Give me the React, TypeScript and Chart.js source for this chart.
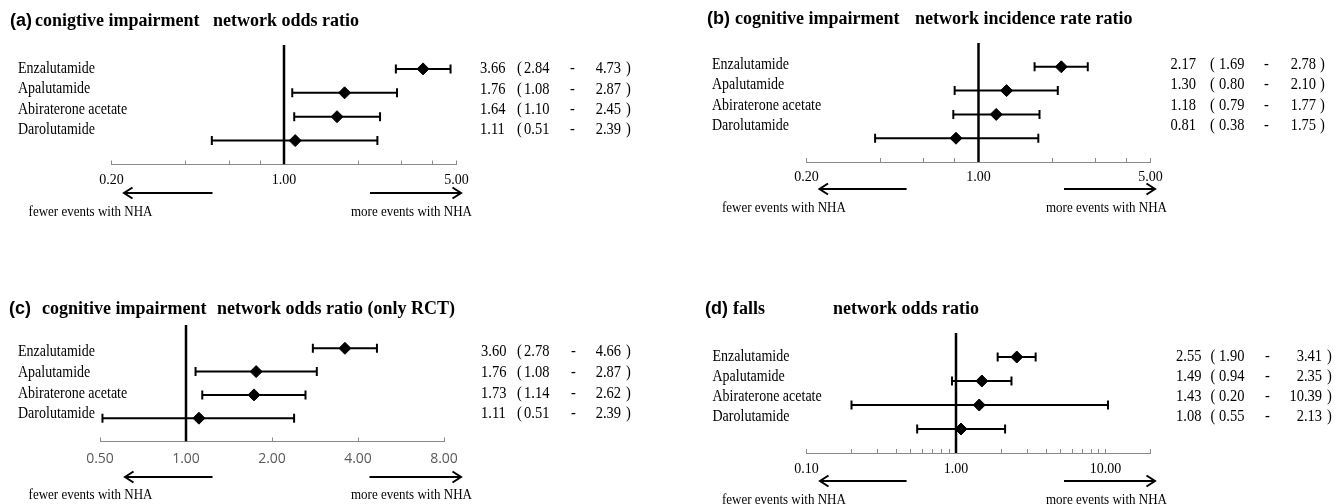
import React, { useEffect, useRef } from "react";
import { Chart, registerables } from "chart.js";

Chart.register(...registerables);

const PAGE_W = 1336;
const PAGE_H = 504;

// ---------- data ----------
const drugs = ["Enzalutamide", "Apalutamide", "Abiraterone acetate", "Darolutamide"];

const aEst = [3.66, 1.76, 1.64, 1.11];
const aLow = [2.84, 1.08, 1.1, 0.51];
const aHigh = [4.73, 2.87, 2.45, 2.39];

const bEst = [2.17, 1.3, 1.18, 0.81];
const bLow = [1.69, 0.8, 0.79, 0.38];
const bHigh = [2.78, 2.1, 1.77, 1.75];

const cEst = [3.6, 1.76, 1.73, 1.11];
const cLow = [2.78, 1.08, 1.14, 0.51];
const cHigh = [4.66, 2.87, 2.62, 2.39];

const dEst = [2.55, 1.49, 1.43, 1.08];
const dLow = [1.9, 0.94, 0.2, 0.55];
const dHigh = [3.41, 2.35, 10.39, 2.13];

const ticksAB = [0.2, 0.4, 0.6, 0.8, 1, 2, 3, 4, 5];
const labeledAB = [0.2, 1, 5];
const ticksC = [0.5, 1, 2, 4, 8];
const labeledC = [0.5, 1, 2, 4, 8];
const ticksD = [0.1, 0.2, 0.3, 0.4, 0.5, 0.6, 0.7, 0.8, 0.9, 1, 2, 3, 4, 5, 6, 7, 8, 9, 10, 20];
const labeledD = [0.1, 1, 10];

const titleTags = ["(a)", "(b)", "(c)", "(d)"];
const titleFirst = ["conigtive impairment", "cognitive impairment", "cognitive impairment", "falls"];
const titleSecond = ["network odds ratio", "network incidence rate ratio", "network odds ratio (only RCT)", "network odds ratio"];
const noteLeft = "fewer events with NHA";
const noteRight = "more events with NHA";

// ---------- layout (page coordinates) ----------
type Panel = {
  est: number[];
  low: number[];
  high: number[];
  ticks: number[];
  labeled: number[];
  min: number;
  max: number;
  idx: number;
  area: { left: number; right: number; top: number; bottom: number };
  tickPad: number;
  tickFamily: string;
  tickColor: string;
  tickSize: number;
  titleX: [number, number, number];
  titleBase: number;
  labelX: number;
  labelY0: number;
  labelStep: number;
  cols: { est: number; open: number; low: number; dash: number; highR: number; close: number };
  arrowY: number;
  arrowL: [number, number];
  arrowR: [number, number];
  noteX: [number, number];
  noteY: number;
};

const panels: Panel[] = [
  {
    est: aEst, low: aLow, high: aHigh, ticks: ticksAB, labeled: labeledAB, min: 0.2, max: 5, idx: 0,
    area: { left: 111.5, right: 456.5, top: 45, bottom: 164.5 },
    tickPad: 11.5, tickFamily: '"Liberation Serif", serif', tickColor: "#000", tickSize: 14,
    titleX: [10, 35, 213], titleBase: 26,
    labelX: 18, labelY0: 69, labelStep: 20.3,
    cols: { est: 480, open: 517, low: 524, dash: 570, highR: 621, close: 626 },
    arrowY: 193, arrowL: [212.5, 124], arrowR: [370, 461], noteX: [28.6, 351], noteY: 212,
  },
  {
    est: bEst, low: bLow, high: bHigh, ticks: ticksAB, labeled: labeledAB, min: 0.2, max: 5, idx: 1,
    area: { left: 806.5, right: 1150.5, top: 43, bottom: 162 },
    tickPad: 11, tickFamily: '"Liberation Serif", serif', tickColor: "#000", tickSize: 14,
    titleX: [707, 735, 915], titleBase: 24,
    labelX: 712, labelY0: 64.5, labelStep: 20.5,
    cols: { est: 1170.5, open: 1210, low: 1219, dash: 1264, highR: 1316, close: 1320 },
    arrowY: 189, arrowL: [906.6, 819.5], arrowR: [1064, 1155], noteX: [722, 1046], noteY: 208,
  },
  {
    est: cEst, low: cLow, high: cHigh, ticks: ticksC, labeled: labeledC, min: 0.5, max: 8, idx: 2,
    area: { left: 100, right: 444, top: 325, bottom: 441.5 },
    tickPad: 13.5, tickFamily: '"Open Sans", sans-serif', tickColor: "#595959", tickSize: 14,
    titleX: [9, 42, 217], titleBase: 314,
    labelX: 18, labelY0: 352, labelStep: 20.7,
    cols: { est: 481, open: 517, low: 524, dash: 571, highR: 621, close: 626 },
    arrowY: 477, arrowL: [212.5, 125], arrowR: [369.5, 461], noteX: [28.6, 351], noteY: 495,
  },
  {
    est: dEst, low: dLow, high: dHigh, ticks: ticksD, labeled: labeledD, min: 0.1, max: 20, idx: 3,
    area: { left: 806.5, right: 1150.5, top: 333, bottom: 453 },
    tickPad: 11.5, tickFamily: '"Liberation Serif", serif', tickColor: "#000", tickSize: 14,
    titleX: [705, 733, 833], titleBase: 314,
    labelX: 712.5, labelY0: 357, labelStep: 20,
    cols: { est: 1176, open: 1210.5, low: 1219, dash: 1265, highR: 1322, close: 1327 },
    arrowY: 481, arrowL: [906.6, 820], arrowR: [1064, 1155], noteX: [722, 1046], noteY: 500,
  },
];

const AXIS_BOX_H = 40;
const AXIS_GREY = "#8a8a8a";
const TEXT_STRETCH_Y = 1.13;

function drawArrow(ctx: CanvasRenderingContext2D, tail: number, head: number, y: number) {
  const dir = head > tail ? 1 : -1;
  ctx.beginPath();
  ctx.moveTo(tail, y);
  ctx.lineTo(head, y);
  ctx.moveTo(head - dir * 8.5, y - 5.5);
  ctx.lineTo(head, y);
  ctx.lineTo(head - dir * 8.5, y + 5.5);
  ctx.stroke();
}

function stretchedText(ctx: CanvasRenderingContext2D, s: string, x: number, y: number, align: CanvasTextAlign) {
  ctx.save();
  ctx.translate(x, y);
  ctx.scale(1, TEXT_STRETCH_Y);
  ctx.textAlign = align;
  ctx.fillText(s, 0, 0);
  ctx.restore();
}

function makeTextPlugin(p: Panel) {
  return {
    id: "forestText" + p.idx,
    afterDraw(chart: any) {
      const ctx: CanvasRenderingContext2D = chart.ctx;
      ctx.save();
      ctx.fillStyle = "#000";
      ctx.strokeStyle = "#000";
      // title
      ctx.textAlign = "left";
      ctx.textBaseline = "alphabetic";
      ctx.font = 'bold 18px "Liberation Sans", Arial, sans-serif';
      ctx.fillText(titleTags[p.idx], p.titleX[0], p.titleBase);
      ctx.font = 'bold 18px "Liberation Serif", serif';
      ctx.fillText(titleFirst[p.idx], p.titleX[1], p.titleBase);
      ctx.fillText(titleSecond[p.idx], p.titleX[2], p.titleBase);
      // row labels and values
      ctx.textBaseline = "middle";
      drugs.forEach((name, i) => {
        const y = p.labelY0 + i * p.labelStep;
        ctx.font = '14px "Liberation Serif", serif';
        stretchedText(ctx, name, p.labelX, y, "left");
        ctx.font = '14.5px "Liberation Serif", serif';
        stretchedText(ctx, p.est[i].toFixed(2), p.cols.est, y, "left");
        stretchedText(ctx, "(", p.cols.open, y, "left");
        stretchedText(ctx, p.low[i].toFixed(2), p.cols.low, y, "left");
        stretchedText(ctx, "-", p.cols.dash, y, "left");
        stretchedText(ctx, p.high[i].toFixed(2), p.cols.highR, y, "right");
        stretchedText(ctx, ")", p.cols.close, y, "left");
      });
      // arrows
      ctx.lineWidth = 2;
      drawArrow(ctx, p.arrowL[0], p.arrowL[1], p.arrowY);
      drawArrow(ctx, p.arrowR[0], p.arrowR[1], p.arrowY);
      // notes
      ctx.font = '13px "Liberation Serif", serif';
      stretchedText(ctx, noteLeft, p.noteX[0], p.noteY, "left");
      stretchedText(ctx, noteRight, p.noteX[1], p.noteY, "left");
      ctx.restore();
    },
  };
}

function makeConfig(p: Panel): any {
  const rows = p.est.map((_, i) => i);
  const ciSets = rows.map((i) => ({
    data: [
      { x: p.low[i], y: i },
      { x: p.high[i], y: i },
    ],
    showLine: true,
    borderColor: "#000",
    borderWidth: 2,
    pointRadius: 0,
  }));
  return {
    type: "scatter",
    data: {
      datasets: [
        {
          data: rows.map((i) => ({ x: p.est[i], y: i })),
          pointStyle: "rectRot",
          pointRadius: 6,
          pointBackgroundColor: "#000",
          pointBorderColor: "#000",
          pointBorderWidth: 1,
        },
        {
          data: [
            ...rows.map((i) => ({ x: p.low[i], y: i })),
            ...rows.map((i) => ({ x: p.high[i], y: i })),
          ],
          pointStyle: "line",
          pointRotation: 90,
          pointRadius: 4.5,
          pointBorderColor: "#000",
          pointBorderWidth: 2,
        },
        ...ciSets,
        {
          data: [
            { x: 1, y: -1 },
            { x: 1, y: 4 },
          ],
          showLine: true,
          borderColor: "#000",
          borderWidth: 2.5,
          pointRadius: 0,
        },
      ],
    },
    options: {
      animation: false,
      responsive: false,
      events: [],
      layout: {
        autoPadding: false,
        padding: {
          left: p.area.left,
          right: PAGE_W - p.area.right,
          top: p.area.top,
          bottom: PAGE_H - p.area.bottom - AXIS_BOX_H,
        },
      },
      plugins: {
        legend: { display: false },
        tooltip: { enabled: false },
        title: { display: false },
      },
      scales: {
        x: {
          type: "logarithmic",
          position: "bottom",
          min: p.min,
          max: p.max,
          bounds: "data",
          afterBuildTicks: (scale: any) => {
            scale.ticks = p.ticks.map((v) => ({ value: v }));
          },
          afterFit: (scale: any) => {
            scale.height = AXIS_BOX_H;
          },
          ticks: {
            autoSkip: false,
            maxRotation: 0,
            minRotation: 0,
            padding: p.tickPad,
            color: p.tickColor,
            font: { family: p.tickFamily, size: p.tickSize },
            callback: (v: any) => {
              const n = Number(v);
              return p.labeled.some((l) => Math.abs(l - n) < 1e-9) ? n.toFixed(2) : "";
            },
          },
          grid: {
            drawOnChartArea: false,
            drawTicks: true,
            tickLength: -4,
            color: AXIS_GREY,
            tickColor: AXIS_GREY,
            lineWidth: 1,
          },
          border: { display: true, color: AXIS_GREY, width: 1 },
        },
        y: {
          type: "linear",
          min: -1,
          max: 4,
          reverse: true,
          display: false,
        },
      },
    },
    plugins: [makeTextPlugin(p)],
  };
}

function ForestCanvas({ panel }: { panel: Panel }) {
  const ref = useRef<HTMLCanvasElement | null>(null);
  useEffect(() => {
    if (!ref.current) return;
    const chart = new Chart(ref.current, makeConfig(panel));
    return () => chart.destroy();
  }, [panel]);
  return (
    <canvas
      ref={ref}
      width={PAGE_W}
      height={PAGE_H}
      style={{ position: "absolute", left: 0, top: 0, width: PAGE_W, height: PAGE_H }}
    />
  );
}

export default function App() {
  useEffect(() => {
    document.body.style.margin = "0";
    document.body.style.background = "#fff";
  }, []);
  return (
    <div style={{ position: "relative", width: PAGE_W, height: PAGE_H, background: "#fff", overflow: "hidden" }}>
      {panels.map((p) => (
        <ForestCanvas key={p.idx} panel={p} />
      ))}
    </div>
  );
}
